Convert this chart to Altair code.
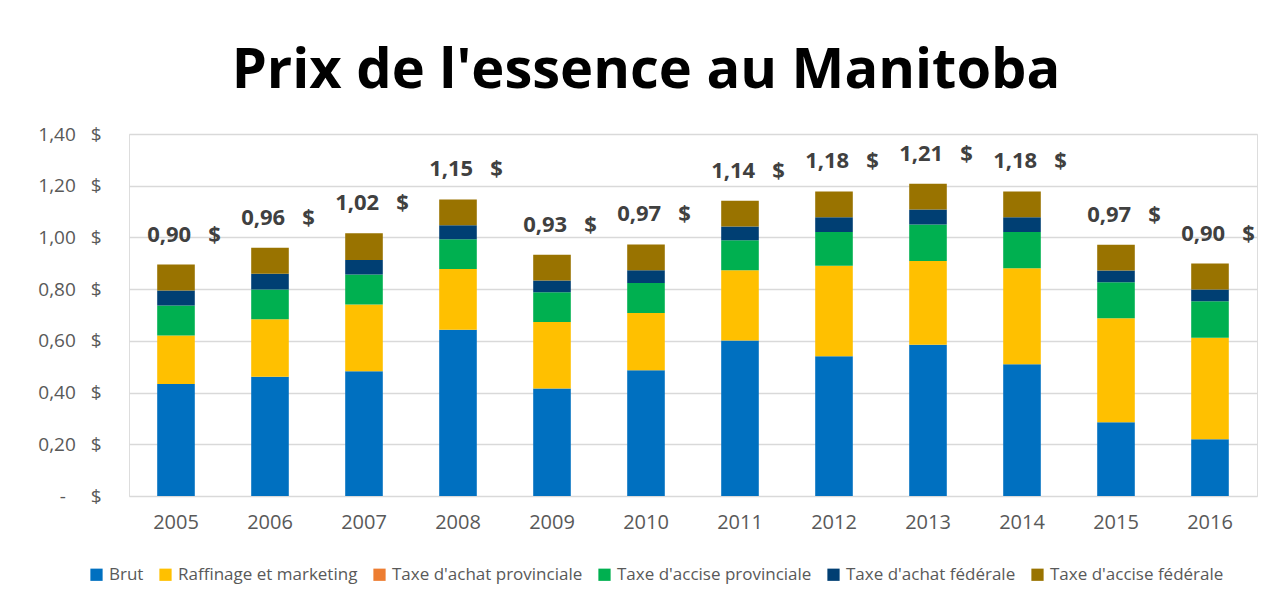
import altair as alt
import pandas as pd

years = ["2005", "2006", "2007", "2008", "2009", "2010", "2011", "2012", "2013", "2014", "2015", "2016"]
brut = [0.433, 0.461, 0.482, 0.643, 0.416, 0.486, 0.601, 0.540, 0.585, 0.510, 0.285, 0.219]
raffinage = [0.188, 0.223, 0.259, 0.235, 0.257, 0.222, 0.272, 0.350, 0.324, 0.371, 0.402, 0.393]
achat_prov = [0.0, 0.0, 0.0, 0.0, 0.0, 0.0, 0.0, 0.0, 0.0, 0.0, 0.0, 0.0]
accise_prov = [0.116, 0.115, 0.116, 0.115, 0.115, 0.116, 0.116, 0.131, 0.141, 0.140, 0.140, 0.141]
achat_fed = [0.058, 0.061, 0.056, 0.054, 0.045, 0.049, 0.053, 0.057, 0.058, 0.057, 0.045, 0.046]
accise_fed = [0.100, 0.100, 0.103, 0.100, 0.100, 0.100, 0.100, 0.100, 0.100, 0.100, 0.100, 0.100]

series_names = ["Brut", "Raffinage et marketing", "Taxe d'achat provinciale",
                "Taxe d'accise provinciale", "Taxe d'achat fédérale", "Taxe d'accise fédérale"]
series_values = [brut, raffinage, achat_prov, accise_prov, achat_fed, accise_fed]
series_colors = ["#0070C0", "#FFC000", "#ED7D31", "#00B050", "#003F73", "#997300"]

rows = []
for si, (name, vals) in enumerate(zip(series_names, series_values)):
    for y, v in zip(years, vals):
        rows.append({"Année": y, "Composante": name, "Valeur": v, "ordre": si})
df = pd.DataFrame(rows)

NB = "\u00a0"

x_enc = alt.X("Année:N", title=None,
              scale=alt.Scale(paddingInner=0.6, paddingOuter=0.3),
              axis=alt.Axis(labelAngle=0, domain=False, ticks=False, labelPadding=16,
                            labelFontSize=20, labelColor="#595959", labelFont="Open Sans"))

bars = alt.Chart(df).mark_bar().encode(
    x=x_enc,
    y=alt.Y("sum(Valeur):Q", title=None,
            scale=alt.Scale(domain=[0, 1.4], nice=False),
            axis=alt.Axis(values=[0, 0.2, 0.4, 0.6, 0.8, 1.0, 1.2, 1.4],
                          labelExpr=f"datum.value == 0 ? '-{NB*5}$' : replace(format(datum.value, '.2f'), '.', ',') + '{NB*3}$'",
                          domain=False, ticks=False, labelPadding=28,
                          labelFontSize=19, labelColor="#595959", labelFont="Open Sans",
                          gridColor="#D9D9D9", gridWidth=1.5)),
    color=alt.Color("Composante:N", title=None,
                    scale=alt.Scale(domain=series_names, range=series_colors),
                    legend=alt.Legend(orient="none", direction="horizontal",
                                      legendX=-41, legendY=432,
                                      symbolType="square", symbolSize=150, symbolStrokeWidth=0,
                                      labelFontSize=17, labelColor="#595959", labelFont="Open Sans",
                                      labelLimit=0, columnPadding=13, labelOffset=4)),
    order=alt.Order("ordre:Q", sort="ascending"),
)

labels = alt.Chart(df).transform_aggregate(
    total="sum(Valeur)", groupby=["Année"]
).transform_calculate(
    txt=f"replace(format(datum.total, '.2f'), '.', ',') + '{NB*3}$'"
).mark_text(fontSize=22, fontWeight="bold", color="#404040", font="Open Sans",
            baseline="middle", dy=-30, dx=8).encode(
    x=alt.X("Année:N"),
    y=alt.Y("total:Q"),
    text="txt:N",
)

chart = alt.layer(bars, labels).properties(
    width=1128, height=362,
    title=alt.TitleParams("Prix de l'essence au Manitoba", fontSize=56, fontWeight="bold",
                          font="Open Sans", color="#000000", anchor="middle", dx=-47, offset=25),
    autosize=alt.AutoSizeParams(type="none"),
    padding={"left": 121, "top": 126, "right": 3, "bottom": 97},
).configure_view(stroke=None).configure(background="white")

chart.save("out.html", embed_options={"renderer": "svg", "actions": False})
